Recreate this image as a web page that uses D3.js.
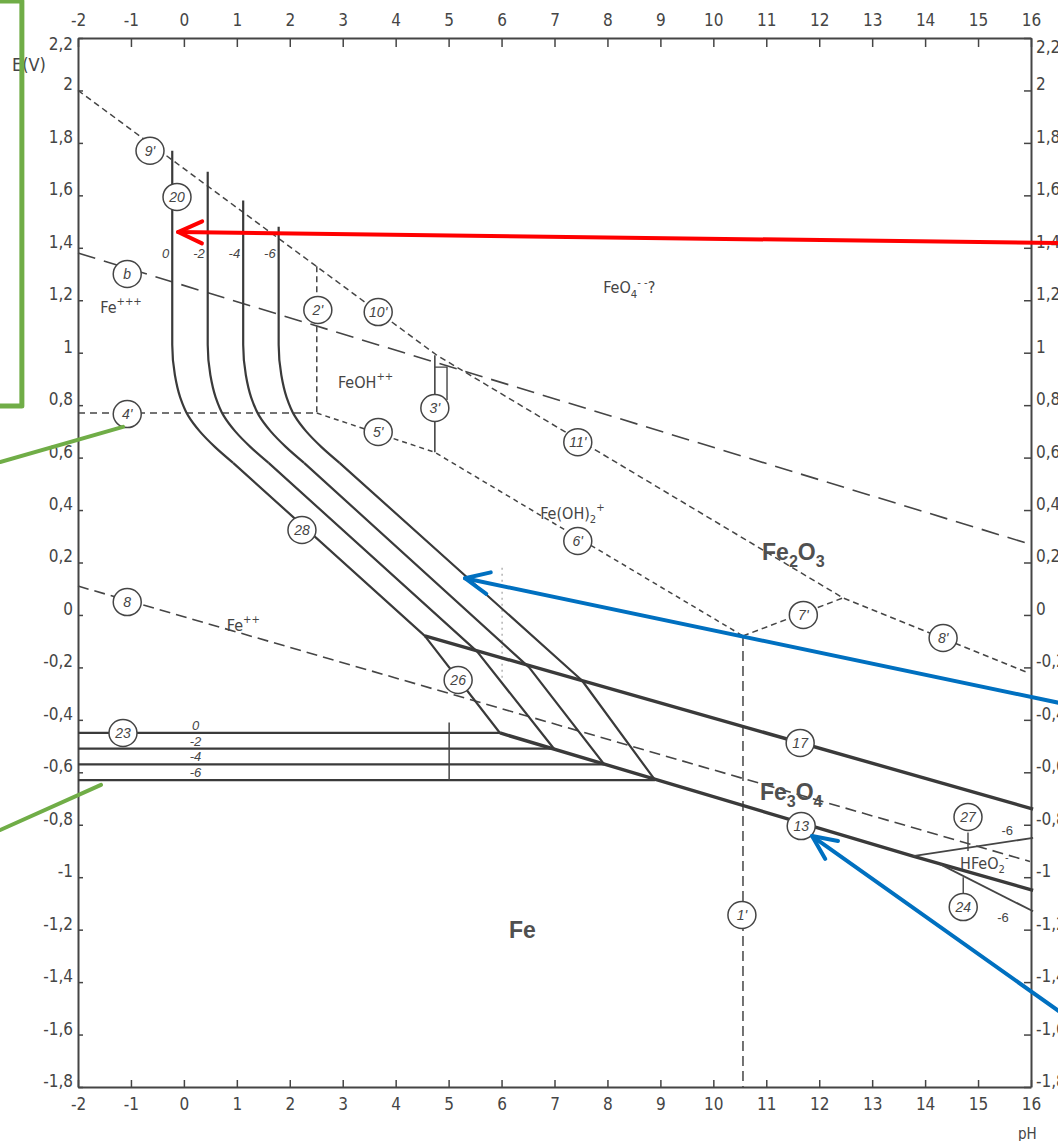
<!DOCTYPE html>
<html><head><meta charset="utf-8">
<script src="https://cdn.jsdelivr.net/npm/d3@7"></script>
<style>body{margin:0;background:#fff;} svg{display:block;}</style>
</head><body>
<svg id="c" width="1058" height="1141"></svg>
<script>
// ---------- DATA (pH, E in volts) ----------
const xTickValues = [-2,-1,0,1,2,3,4,5,6,7,8,9,10,11,12,13,14,15,16];
const xTickLabels = ["-2","-1","0","1","2","3","4","5","6","7","8","9","10","11","12","13","14","15","16"];
const yTickValues = [2.2,2,1.8,1.6,1.4,1.2,1,0.8,0.6,0.4,0.2,0,-0.2,-0.4,-0.6,-0.8,-1,-1.2,-1.4,-1.6,-1.8];
const yTickLabels = ["2,2","2","1,8","1,6","1,4","1,2","1","0,8","0,6","0,4","0,2","0","-0,2","-0,4","-0,6","-0,8","-1","-1,2","-1,4","-1,6","-1,8"];
const concLabels = ["0","-2","-4","-6"];

// corrosion curves (lines 20 / 28 / 26) for log c = 0, -2, -4, -6
// first 8 points: vertical + rounded bend; remaining: straight segments
const corr0 = [[-0.22,1.77],[-0.22,1.03],[-0.17,0.915],[-0.07,0.83],[0.08,0.76],[0.30,0.70],[0.59,0.64],[0.93,0.58],[4.55,-0.08],[5.97,-0.45]];
const corr2 = [[0.45,1.69],[0.45,1.03],[0.50,0.915],[0.60,0.83],[0.75,0.76],[0.97,0.70],[1.26,0.64],[1.60,0.58],[5.54,-0.14],[6.99,-0.51]];
const corr4 = [[1.12,1.58],[1.12,1.03],[1.17,0.915],[1.27,0.83],[1.42,0.76],[1.64,0.70],[1.93,0.64],[2.27,0.58],[6.52,-0.20],[7.94,-0.57]];
const corr6 = [[1.79,1.48],[1.79,1.03],[1.84,0.915],[1.94,0.83],[2.09,0.76],[2.31,0.70],[2.60,0.64],[2.94,0.58],[7.52,-0.25],[8.90,-0.63]];
// line 23 (Fe / Fe++) levels and their right ends
const line23Levels = [-0.45,-0.51,-0.57,-0.63];
const line23Ends = [5.97,6.99,7.94,8.90];
const line13 = [[5.97,-0.45],[13.77,-0.92],[16.04,-1.05]];
const line17 = [[4.55,-0.08],[16.04,-0.74]];
const line27 = [[13.77,-0.92],[16.04,-0.85]];
const line24 = [[14.28,-0.95],[16.04,-1.13]];
const lineB = [[-2,1.38],[15.98,0.27]];
const lineA = [[-2,0.11],[15.98,-0.94]];
const line9 = [[-2,2.0],[4.78,0.99],[12.45,0.065],[15.94,-0.22]];
const line4 = [[-2,0.77],[2.51,0.77]];
const line2 = [[2.51,1.33],[2.51,0.77]];
const line56 = [[2.51,0.77],[4.74,0.62],[10.56,-0.08]];
const line3 = [[4.74,0.99],[4.74,0.62]];
const line3b = [[4.74,0.945],[4.97,0.945],[4.97,0.82]];
const line7 = [[10.56,-0.08],[12.45,0.065]];
const line1 = [[10.56,-0.08],[10.56,-1.8]];
const lineV5 = [[5.01,-0.41],[5.01,-0.63]];
const lineDot = [[6.01,0.18],[6.01,-0.25]];
const tick27 = [[14.81,-0.83],[14.81,-0.90]];
const tick24 = [[14.72,-1.09],[14.72,-1.00]];

// circled line numbers
const circleNames = ["9'","20","b","2'","10'","4'","3'","5'","11'","6'","28","8","26","23","17","7'","8'","13","27","24","1'"];
const circlePH    = [-0.64,-0.13,-1.07,2.53,3.67,-1.07,4.74,3.67,7.44,7.44,2.23,-1.07,5.18,-1.15,11.64,11.70,14.34,11.66,14.81,14.72,10.54];
const circleE     = [1.77,1.594,1.30,1.163,1.155,0.766,0.789,0.698,0.659,0.282,0.324,0.049,-0.248,-0.45,-0.488,0.0,-0.088,-0.805,-0.77,-1.114,-1.144];

// region labels: parts [text, "sub"|"sup"|""]
const regionParts = [
  [["FeO",""],["4","sub"],["- -","sup"],["?",""]],
  [["Fe",""],["+++","sup"]],
  [["FeOH",""],["++","sup"]],
  [["Fe(OH)",""],["2","sub"],["+","sup"]],
  [["Fe",""],["2","sub"],["O",""],["3","sub"]],
  [["Fe",""],["++","sup"]],
  [["Fe",""],["3","sub"],["O",""],["4","sub"]],
  [["Fe",""]],
  [["HFeO",""],["2","sub"],["-","sup"]]
];
const regionPH = [7.92,-1.58,2.91,6.73,10.92,0.81,10.88,6.14,14.66];
const regionE  = [1.25,1.174,0.888,0.389,0.24,-0.038,-0.675,-1.201,-0.946];
const regionBold = [false,false,false,false,true,false,true,true,false];
// the "-6" marks at lines 27 and 24
const minus6PH = [15.55,15.47];
const minus6E = [-0.82,-1.15];

// overlaid annotation marks (data coords)
const greenBox = [[-3.66,2.341],[-3.06,0.797]];
const greenLines = [[[-3.47,0.583],[-1.15,0.717]],[[-3.47,-0.82],[-1.566,-0.648]]];
const redArrow = [[16.55,1.418],[-0.11,1.46]];
const blueArrows = [[[16.55,-0.336],[5.31,0.14]],[[16.55,-1.514],[11.865,-0.843]]];

// ---------- DRAW ----------
const svg = d3.select("#c");
const x = d3.scaleLinear().domain([-2,16]).range([78,1031]);
const y = d3.scaleLinear().domain([-1.8,2.2]).range([1087,38]);
const INK = "#454545";
const FONT = "'Liberation Sans Narrow','DejaVu Sans Condensed','Liberation Sans',sans-serif";
const LFONT = "'Liberation Sans','DejaVu Sans',sans-serif";

svg.append("rect").attr("width",1058).attr("height",1141).attr("fill","#fff");

function styleAxis(g){
  g.attr("font-family",FONT).attr("font-size",17);
  g.select(".domain").attr("stroke",INK).attr("stroke-width",2);
  g.selectAll(".tick line").attr("stroke",INK).attr("stroke-width",1.5);
  g.selectAll(".tick text").attr("fill",INK);
}
const fmtX = (d,i)=>xTickLabels[i];
const fmtY = (d,i)=>yTickLabels[i];
const labelShift = d => d === 2.2 ? 6 : -6;
svg.append("g").attr("transform","translate(78,0)")
  .call(d3.axisLeft(y).tickValues(yTickValues).tickFormat(fmtY).tickSize(-5).tickSizeOuter(0).tickPadding(5))
  .call(styleAxis).selectAll(".tick text").attr("y",labelShift);
svg.append("g").attr("transform","translate(1031,0)")
  .call(d3.axisRight(y).tickValues(yTickValues).tickFormat(fmtY).tickSize(-7).tickSizeOuter(0).tickPadding(5))
  .call(styleAxis).selectAll(".tick text").attr("y",d => d === 2.2 ? 9 : -6);
svg.append("g").attr("transform","translate(0,38)")
  .call(d3.axisTop(x).tickValues(xTickValues).tickFormat(fmtX).tickSize(-9).tickSizeOuter(0).tickPadding(12))
  .call(styleAxis);
svg.append("g").attr("transform","translate(0,1087)")
  .call(d3.axisBottom(x).tickValues(xTickValues).tickFormat(fmtX).tickSize(-7).tickSizeOuter(0).tickPadding(11))
  .call(styleAxis);

svg.append("text").attr("x",12).attr("y",71).attr("font-family",FONT).attr("font-size",18).attr("fill",INK).text("E(V)");
svg.append("text").attr("x",1018).attr("y",1139).attr("font-family",FONT).attr("font-size",15).attr("fill",INK).text("pH");

const lin = d3.line().x(d=>x(d[0])).y(d=>y(d[1]));
const smooth = d3.line().x(d=>x(d[0])).y(d=>y(d[1])).curve(d3.curveMonotoneY);
const plot = svg.append("g").attr("fill","none").attr("stroke-linecap","butt").attr("stroke-linejoin","round");
function path(data, w, dash, gen, col, op){
  plot.append("path").attr("d",(gen||lin)(data)).attr("stroke",col||INK)
    .attr("stroke-width",w).attr("stroke-dasharray",dash||null).attr("opacity",op||1);
}
// dashed equilibrium lines
path(lineB,1.6,"18,9");
path(lineA,1.6,"11,6");
path(line9,1.5,"6,4");
path(line4,1.5,"7,5");
path(line2,1.5,"6,4");
path(line56,1.5,"5,4");
path(line3,1.6);
path(line3b,1.4);
path(line7,1.5,"6,4");
path(line1,1.5,"10,5");
path(lineDot,1.2,"2,4",null,"#777",0.7);
// corrosion curves: rounded upper part + straight lower part
[corr0,corr2,corr4,corr6].forEach(c=>{
  path(c.slice(0,8),2.2,null,smooth,"#3a3a3a");
  path(c.slice(7),2.2,null,lin,"#3a3a3a");
});
// horizontal Fe/Fe++ lines
line23Levels.forEach((v,i)=>path([[-2,v],[line23Ends[i],v]],2.3,null,null,"#3a3a3a"));
path(lineV5,1.5);
path(line13,3.4,null,null,"#3a3a3a");
path(line17,3.4,null,null,"#3a3a3a");
path(line27,1.8);
path(line24,1.8);
path(tick27,1.4);
path(tick24,1.4);

// concentration labels at vertical lines and at horizontals
const small = svg.append("g").attr("font-family",LFONT).attr("font-size",13).attr("font-style","italic").attr("fill",INK);
[corr0,corr2,corr4,corr6].forEach((c,i)=>{
  small.append("text").attr("x",x(c[0][0])-3).attr("y",y(1.38)+5).attr("text-anchor","end").text(concLabels[i]);
});
line23Levels.forEach((v,i)=>{
  small.append("text").attr("x",x(0.22)).attr("y",y(v)-3).attr("text-anchor","middle").text(concLabels[i]);
});
minus6PH.forEach((p,i)=>{
  small.append("text").attr("x",x(p)).attr("y",y(minus6E[i])+5).attr("text-anchor","middle").attr("font-style","normal").text("-6");
});

// circled labels
const cg = svg.append("g");
circleNames.forEach((n,i)=>{
  const cx = x(circlePH[i]), cy = y(circleE[i]);
  cg.append("ellipse").attr("cx",cx).attr("cy",cy).attr("rx",14).attr("ry",13.5)
    .attr("fill","#fff").attr("stroke",INK).attr("stroke-width",1.5);
  cg.append("text").attr("x",cx).attr("y",cy+5).attr("text-anchor","middle")
    .attr("font-family",LFONT).attr("font-size",14).attr("font-style","italic").attr("fill",INK).text(n);
});

// region labels
regionParts.forEach((parts,i)=>{
  const size = regionBold[i] ? 23 : 16;
  const t = svg.append("text").attr("x",x(regionPH[i])).attr("y",y(regionE[i])+size*0.35)
    .attr("font-family", regionBold[i] ? LFONT : FONT).attr("font-size",size)
    .attr("font-weight",regionBold[i]?"bold":"normal").attr("fill",regionBold[i]?"#505050":INK);
  let cur = 0;
  parts.forEach(p=>{
    let off = 0, fs = size;
    if(p[1]==="sub"){off = size*0.3; fs = size*0.7;}
    if(p[1]==="sup"){off = -size*0.45; fs = size*0.7;}
    t.append("tspan").attr("dy",off-cur).attr("font-size",fs).text(p[0]);
    cur = off;
  });
});

// annotation overlays
const ann = svg.append("g").attr("fill","none").attr("stroke-linecap","round").attr("stroke-linejoin","round");
ann.append("rect").attr("x",x(greenBox[0][0])).attr("y",y(greenBox[0][1]))
  .attr("width",x(greenBox[1][0])-x(greenBox[0][0])).attr("height",y(greenBox[1][1])-y(greenBox[0][1]))
  .attr("stroke","#70ad47").attr("stroke-width",5);
greenLines.forEach(l=>ann.append("path").attr("d",lin(l)).attr("stroke","#70ad47").attr("stroke-width",4));
function arrow(a,col){
  const x0=x(a[0][0]), y0=y(a[0][1]), x1=x(a[1][0]), y1=y(a[1][1]);
  const L=Math.hypot(x1-x0,y1-y0), ux=(x1-x0)/L, uy=(y1-y0)/L, nx=-uy, ny=ux;
  const hl=24, hw=11;
  ann.append("line").attr("x1",x0).attr("y1",y0).attr("x2",x1).attr("y2",y1).attr("stroke",col).attr("stroke-width",4);
  ann.append("path").attr("d",`M${x1-hl*ux+hw*nx},${y1-hl*uy+hw*ny}L${x1},${y1}L${x1-hl*ux-hw*nx},${y1-hl*uy-hw*ny}`)
    .attr("stroke",col).attr("stroke-width",4);
}
arrow(redArrow,"#ff0000");
blueArrows.forEach(a=>arrow(a,"#0070c0"));
</script>
</body></html>
